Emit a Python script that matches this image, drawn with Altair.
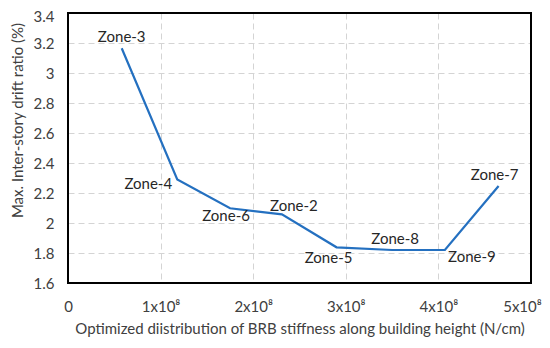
import altair as alt
import pandas as pd

zones = ["Zone-3", "Zone-4", "Zone-6", "Zone-2", "Zone-5", "Zone-8", "Zone-9", "Zone-7"]
stiffness = [0.58e8, 1.18e8, 1.75e8, 2.31e8, 2.90e8, 3.50e8, 4.07e8, 4.65e8]
drift = [3.165, 2.29, 2.098, 2.058, 1.838, 1.82, 1.82, 2.247]

x_ticks = [0, 1e8, 2e8, 3e8, 4e8, 5e8]
y_ticks = [1.6, 1.8, 2.0, 2.2, 2.4, 2.6, 2.8, 3.0, 3.2, 3.4]

# label placement offsets (pixels) per zone
label_offsets = {
    "Zone-3": (0, -11),
    "Zone-4": (-29, 4),
    "Zone-6": (-4, 8),
    "Zone-2": (12, -8),
    "Zone-5": (-8, 11),
    "Zone-8": (3, -11),
    "Zone-9": (27, 7),
    "Zone-7": (-4, -11),
}

df = pd.DataFrame({"zone": zones, "k": stiffness, "d": drift, "order": range(len(zones))})

FONT = "Lato"
TXT = "#404040"

x = alt.X("k:Q", scale=alt.Scale(domain=[0, 5e8], nice=False),
          axis=alt.Axis(values=x_ticks, tickCount=len(x_ticks),
                        labelExpr="datum.value == 0 ? '0' : format(datum.value/1e8, 'd') + 'x10⁸'",
                        labelOffset={"condition": {"test": "datum.value >= 5e8", "value": -9}, "value": 0},
                        title="Optimized diistribution of BRB stiffness along building height (N/cm)",
                        grid=True, gridDash=[6, 4], gridColor="#d4d4d4",
                        ticks=False, domain=False, labelPadding=16, titlePadding=7,
                        labelOverlap=False, labelFlush=False))
y = alt.Y("d:Q", scale=alt.Scale(domain=[1.6, 3.4], nice=False, zero=False),
          axis=alt.Axis(values=y_ticks, tickCount=len(y_ticks),
                        labelExpr="format(datum.value, '.1~f')",
                        labelOffset={"condition": {"test": "datum.value >= 3.39", "value": 3}, "value": 0},
                        title="Max. Inter-story drift ratio (%)",
                        grid=True, gridDash=[6, 4], gridColor="#d4d4d4",
                        ticks=False, domain=False, labelPadding=14, titlePadding=8,
                        titleY=107, labelOverlap=False, labelFlush=False))

line = alt.Chart(df).mark_line(color="#2470C0", strokeWidth=2.2).encode(x=x, y=y, order="order:Q")

frame = alt.Chart(df).mark_rect(fill=None, stroke="black", strokeWidth=1.5).encode(
    x=alt.value(0), x2=alt.value("width"), y=alt.value(0), y2=alt.value("height")
)

layers = [line]
for z, (dx, dy) in label_offsets.items():
    layers.append(
        alt.Chart(df).transform_filter(alt.datum.zone == z).mark_text(
            dx=dx, dy=dy, font=FONT, fontSize=15, color="#262626", baseline="middle", align="center"
        ).encode(x=x, y=y, text="zone:N")
    )
layers.append(frame)

chart = alt.layer(*layers).properties(
    width=463, height=270,
    autosize=alt.AutoSizeParams(type="none"),
    padding={"left": 60, "top": 5, "right": 11, "bottom": 56},
).configure_view(stroke=None).configure_axis(
    labelFont=FONT, titleFont=FONT, labelFontSize=15, titleFontSize=15,
    labelColor=TXT, titleColor=TXT, titleFontWeight="normal"
)

chart.save("out.html", embed_options={"renderer": "svg", "actions": False})
